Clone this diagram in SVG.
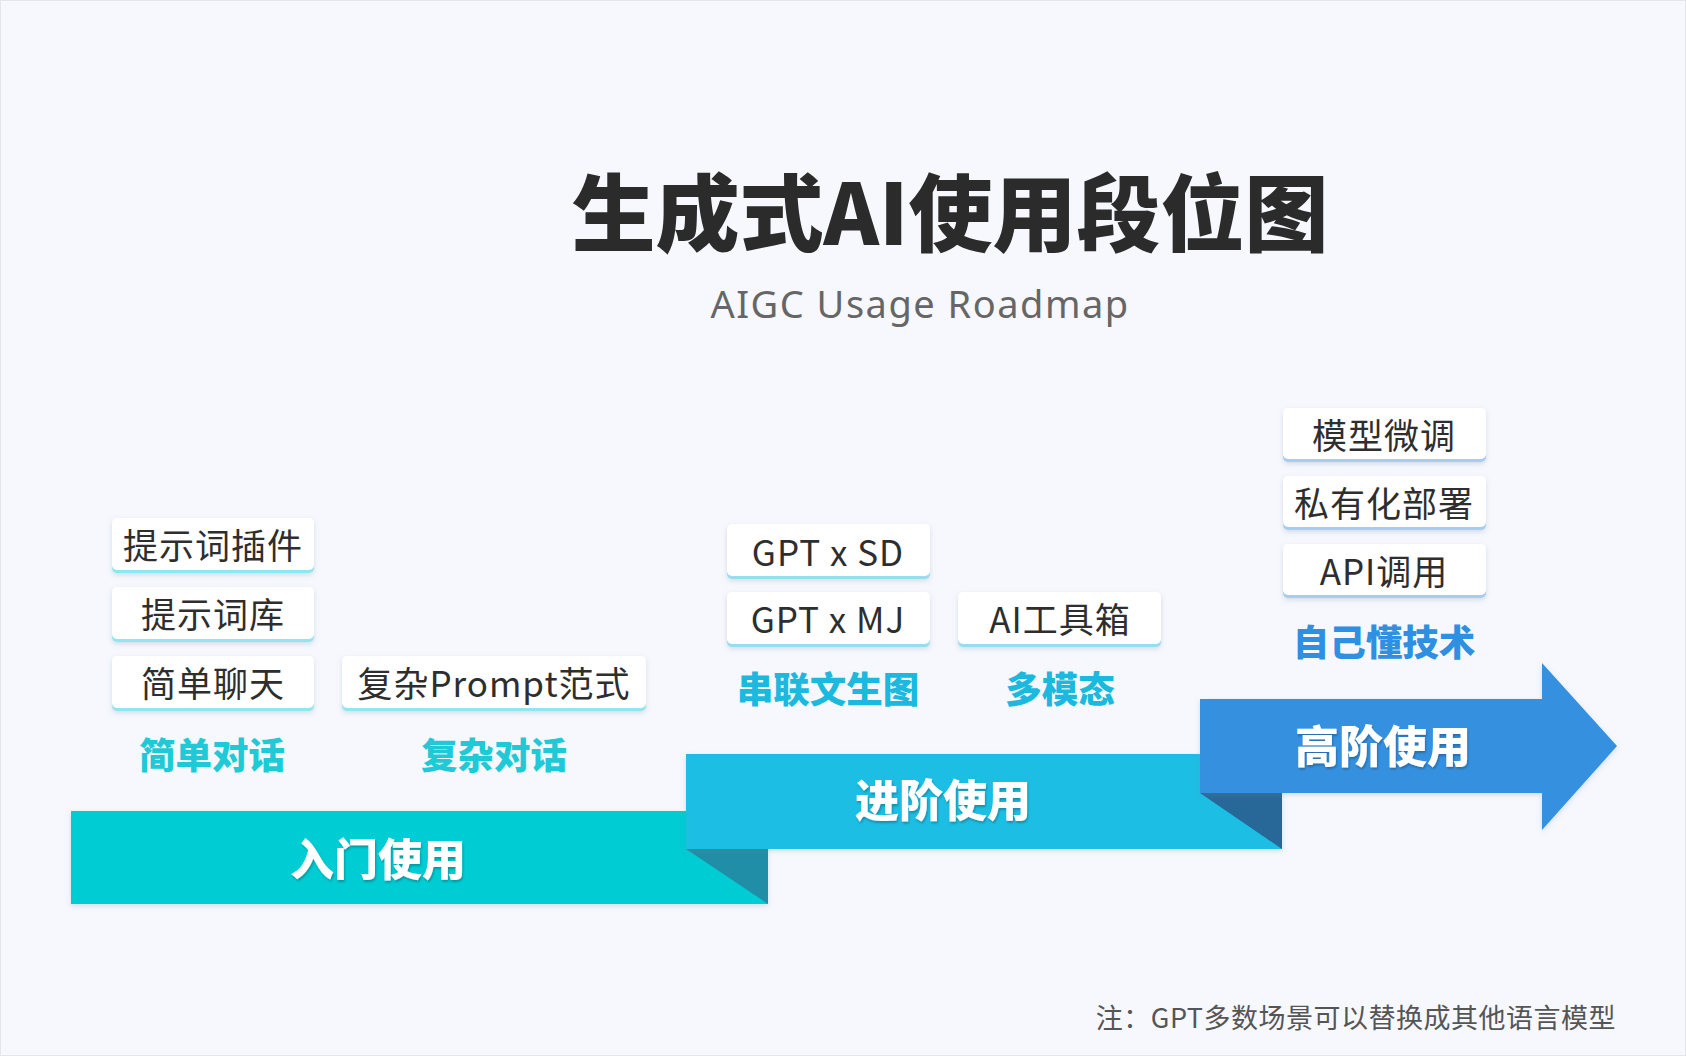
<svg xmlns="http://www.w3.org/2000/svg" width="1686" height="1056" viewBox="0 0 1686 1056">
<defs>
<style>
.title{font-family:"Noto Sans CJK SC","Noto Sans",sans-serif;font-weight:900;font-size:84px;fill:#2b2b2b;text-anchor:middle;dominant-baseline:central}
.sub{font-family:"Noto Sans","Noto Sans CJK SC",sans-serif;font-size:38px;fill:#666;text-anchor:middle;dominant-baseline:central;letter-spacing:1.5px}
.box{fill:#fff}
.bt{font-family:"Noto Sans CJK SC","Noto Sans",sans-serif;font-size:35px;fill:#2e2e2e;text-anchor:middle;dominant-baseline:central;letter-spacing:1px}
.lab{font-family:"Noto Sans CJK SC",sans-serif;font-weight:900;font-size:36.5px;text-anchor:middle;dominant-baseline:central}
.bar{font-family:"Noto Sans CJK SC",sans-serif;font-weight:900;font-size:44px;fill:#fff;text-anchor:middle;dominant-baseline:central}
.note{font-family:"Noto Sans CJK SC","Noto Sans",sans-serif;font-size:27px;fill:#555;text-anchor:end;dominant-baseline:central;letter-spacing:0.5px}
</style>
<filter id="sh" x="-10%" y="-20%" width="120%" height="150%">
<feDropShadow dx="0" dy="2" stdDeviation="2.5" flood-color="#6a8aa8" flood-opacity="0.25"/>
</filter>
<filter id="ts" x="-10%" y="-20%" width="120%" height="150%">
<feDropShadow dx="1" dy="2" stdDeviation="1" flood-color="#000" flood-opacity="0.25"/>
</filter>
</defs>
<rect x="0" y="0" width="1686" height="1056" fill="#f6f8fd"/>
<rect x="0.5" y="0.5" width="1685" height="1055" fill="none" stroke="#e2e6ee" stroke-width="1"/>

<g id="title">
<text class="title" x="950" y="208">生成式AI使用段位图</text>
<text class="sub" x="920" y="303">AIGC Usage Roadmap</text>
</g>

<g id="connectors">
<g id="stage1">
<rect x="71" y="811" width="697" height="93" fill="#02ccd4" filter="url(#sh)"/>
<polygon points="686,849 768,849 768,904" fill="#1f8ea6"/>
<text class="bar" x="378" y="857" filter="url(#ts)">入门使用</text>
</g>
<g id="stage2">
<rect x="686" y="754" width="596" height="95" fill="#1dbee3" filter="url(#sh)"/>
<polygon points="1200,793 1282,793 1282,849" fill="#276898"/>
<text class="bar" x="943" y="798" filter="url(#ts)">进阶使用</text>
</g>
<g id="stage3">
<polygon points="1200,699 1542,699 1542,663 1617,746 1542,830 1542,793 1200,793" fill="#3491e0" filter="url(#sh)"/>
<text class="bar" x="1383" y="744" filter="url(#ts)">高阶使用</text>
</g>
</g>

<g id="g1">
<g id="n-plugin" filter="url(#sh)"><rect x="112" y="521" width="202" height="52" rx="5" fill="#8fe6ec"/><rect class="box" x="112" y="518" width="202" height="52" rx="5"/></g>
<text class="bt" x="213" y="543">提示词插件</text>
<g id="n-lib" filter="url(#sh)"><rect x="112" y="590" width="202" height="52" rx="5" fill="#8fe6ec"/><rect class="box" x="112" y="587" width="202" height="52" rx="5"/></g>
<text class="bt" x="213" y="612">提示词库</text>
<g id="n-chat" filter="url(#sh)"><rect x="112" y="659" width="202" height="52" rx="5" fill="#8fe6ec"/><rect class="box" x="112" y="656" width="202" height="52" rx="5"/></g>
<text class="bt" x="213" y="681">简单聊天</text>
<g id="n-prompt" filter="url(#sh)"><rect x="342" y="659" width="304" height="52" rx="5" fill="#8fe6ec"/><rect class="box" x="342" y="656" width="304" height="52" rx="5"/></g>
<text class="bt" x="494" y="681">复杂Prompt范式</text>
<text class="lab" x="212" y="753" fill="#1fcad6">简单对话</text>
<text class="lab" x="494" y="753" fill="#1fcad6">复杂对话</text>
</g>

<g id="g2">
<g id="n-sd" filter="url(#sh)"><rect x="727" y="527" width="203" height="52" rx="5" fill="#98dcf0"/><rect class="box" x="727" y="524" width="203" height="52" rx="5"/></g>
<text class="bt" x="828" y="550">GPT x SD</text>
<g id="n-mj" filter="url(#sh)"><rect x="727" y="595" width="203" height="52" rx="5" fill="#98dcf0"/><rect class="box" x="727" y="592" width="203" height="52" rx="5"/></g>
<text class="bt" x="828" y="617">GPT x MJ</text>
<g id="n-tool" filter="url(#sh)"><rect x="958" y="595" width="203" height="52" rx="5" fill="#98dcf0"/><rect class="box" x="958" y="592" width="203" height="52" rx="5"/></g>
<text class="bt" x="1060" y="617">AI工具箱</text>
<text class="lab" x="828" y="687" fill="#1cb9df">串联文生图</text>
<text class="lab" x="1060" y="687" fill="#1cb9df">多模态</text>
</g>

<g id="g3">
<g id="n-ft" filter="url(#sh)"><rect x="1283" y="411" width="203" height="51" rx="5" fill="#a6cdf0"/><rect class="box" x="1283" y="408" width="203" height="51" rx="5"/></g>
<text class="bt" x="1384" y="433">模型微调</text>
<g id="n-priv" filter="url(#sh)"><rect x="1283" y="479" width="203" height="51" rx="5" fill="#a6cdf0"/><rect class="box" x="1283" y="476" width="203" height="51" rx="5"/></g>
<text class="bt" x="1384" y="501">私有化部署</text>
<g id="n-api" filter="url(#sh)"><rect x="1283" y="547" width="203" height="51" rx="5" fill="#a6cdf0"/><rect class="box" x="1283" y="544" width="203" height="51" rx="5"/></g>
<text class="bt" x="1384" y="569">API调用</text>
<text class="lab" x="1384" y="640" fill="#2f8fe0">自己懂技术</text>
</g>

<g id="note">
<text class="note" x="1616" y="1016">注：GPT多数场景可以替换成其他语言模型</text>
</g>
</svg>
